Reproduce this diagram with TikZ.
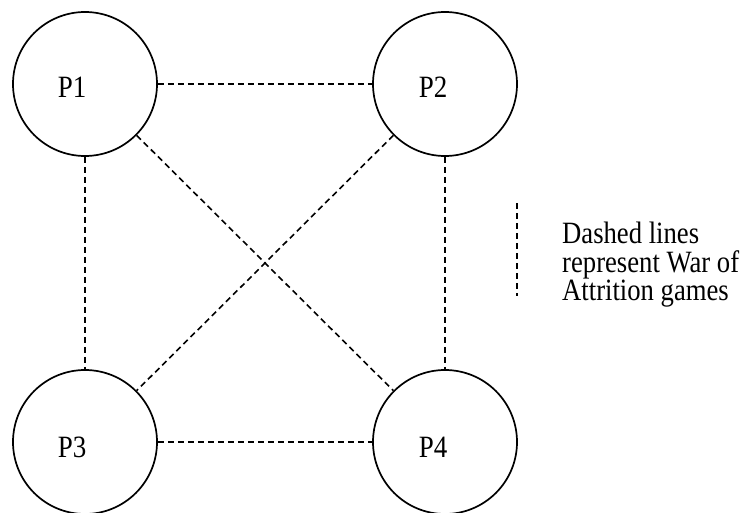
\documentclass[tikz,border=0pt]{standalone}
\usepackage{fontspec}
\setmainfont{Liberation Serif}
\begin{document}
\begin{tikzpicture}[x=1pt,y=-1pt,
  player/.style={circle,draw,line width=1.7pt,minimum size=144pt,inner sep=0pt},
  plabel/.style={anchor=base,inner sep=0pt,font=\fontsize{31}{31}\selectfont},
  game/.style={line width=1.6pt,dash pattern=on 6pt off 4pt}]
\useasboundingbox (0,0) rectangle (743,513);
\node[player] (p1) at (85,84) {};
\node[player] (p2) at (445,84) {};
\node[player] (p3) at (85,442) {};
\node[player] (p4) at (445,442) {};
\node[plabel] (l1) at ([xshift=-13pt,yshift=-14pt]p1.center) {\scalebox{0.87}[1]{P1}};
\node[plabel] (l2) at ([xshift=-12pt,yshift=-14pt]p2.center) {\scalebox{0.87}[1]{P2}};
\node[plabel] (l3) at ([xshift=-13pt,yshift=-15pt]p3.center) {\scalebox{0.87}[1]{P3}};
\node[plabel] (l4) at ([xshift=-12pt,yshift=-15pt]p4.center) {\scalebox{0.87}[1]{P4}};
\draw[game] (p1) -- (p2);
\draw[game] (p3) -- (p4);
\draw[game] (p1) -- (p3);
\draw[game] (p2) -- (p4);
\draw[game] (p1) -- (p4);
\draw[game] (p2) -- (p3);
\coordinate (ktop) at (517,203);
\coordinate (kbot) at (517,296);
\draw[game] (ktop) -- (kbot);
\node[anchor=base west,inner sep=0pt] (legend) at (562,243)
  {\fontsize{31}{25.5}\selectfont\scalebox{0.86}[1]{\begin{tabular}[t]{@{}l@{}}Dashed lines\\represent War of\\Attrition games\end{tabular}}};
\end{tikzpicture}
\end{document}
